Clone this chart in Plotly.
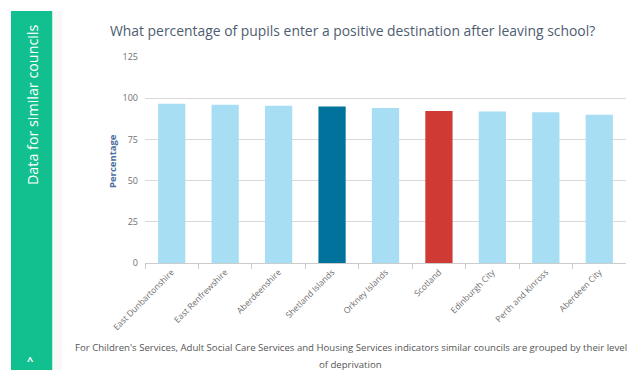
import plotly.graph_objects as go

# Positive destinations for school leavers, similar councils
councils = [
    "East Dunbartonshire", "East Renfrewshire", "Aberdeenshire",
    "Shetland Islands", "Orkney Islands", "Scotland",
    "Edinburgh City", "Perth and Kinross", "Aberdeen City",
]
percentages = [96.6, 96.0, 95.4, 95.0, 94.0, 92.3, 91.9, 91.5, 89.9]
bar_colours = ["#A8DEF3", "#A8DEF3", "#A8DEF3", "#00729C", "#A8DEF3",
               "#CF3A35", "#A8DEF3", "#A8DEF3", "#A8DEF3"]
y_ticks = [0, 25, 50, 75, 100, 125]

W, H = 637, 370
FONT = "Open Sans"


def px(x):
    return x / W


def py(y):
    return 1 - y / H


fig = go.Figure(
    go.Bar(
        x=councils,
        y=percentages,
        marker=dict(color=bar_colours, line=dict(width=0)),
        hovertemplate="%{x}: %{y}<extra></extra>",
    )
)

fig.update_layout(
    template="none",
    width=W,
    height=H,
    margin=dict(l=0, r=0, t=0, b=0, pad=0),
    paper_bgcolor="white",
    plot_bgcolor="white",
    showlegend=False,
    bargap=0.49,
    font=dict(family=FONT, color="#666666"),
    xaxis=dict(
        automargin=False,
        domain=[px(145), px(626)],
        tickangle=-45,
        tickfont=dict(size=8.5, color="#707070"),
        ticks="outside",
        tickson="boundaries",
        ticklen=5,
        tickcolor="#cccccc",
        showline=True,
        linecolor="#cccccc",
        linewidth=1,
        showgrid=False,
        zeroline=False,
    ),
    yaxis=dict(
        automargin=False,
        domain=[py(263), py(57)],
        range=[0, 125],
        tickvals=y_ticks,
        tickfont=dict(size=9, color="#707070"),
        gridcolor="#d9d9d9",
        gridwidth=1,
        zeroline=False,
        showline=False,
        ticks="",
        ticklabelstandoff=6,
    ),
    shapes=[
        # side tab
        dict(type="rect", xref="paper", yref="paper",
             x0=px(11), x1=px(52.5), y0=py(370), y1=py(11),
             fillcolor="#12BF8E", line=dict(width=0), layer="below"),
        dict(type="rect", xref="paper", yref="paper",
             x0=px(52.5), x1=px(62), y0=py(370), y1=py(11),
             fillcolor="#f8f8f8", line=dict(width=0), layer="below"),
    ],
    annotations=[
        dict(text="What percentage of pupils enter a positive destination after leaving school?",
             xref="paper", yref="paper", x=px(352), y=py(30),
             xanchor="center", yanchor="middle", showarrow=False,
             font=dict(family=FONT, size=13.9, color="#4E5D70")),
        dict(text="<b>Percentage</b>", xref="paper", yref="paper",
             x=px(112), y=py(161), textangle=-90,
             xanchor="center", yanchor="middle", showarrow=False,
             font=dict(family=FONT, size=9.5, color="#4D6E9E")),
        dict(text="Data for similar councils", xref="paper", yref="paper",
             x=px(32), y=py(105), textangle=-90,
             xanchor="center", yanchor="middle", showarrow=False,
             font=dict(family=FONT, size=14.3, color="white")),
        dict(text="<b>^</b>", xref="paper", yref="paper",
             x=px(30), y=py(360),
             xanchor="center", yanchor="middle", showarrow=False,
             font=dict(family=FONT, size=11, color="white")),
        dict(text="For Children's Services, Adult Social Care Services and Housing Services indicators similar councils are grouped by their level",
             xref="paper", yref="paper", x=px(351), y=py(347),
             xanchor="center", yanchor="middle", showarrow=False,
             font=dict(family=FONT, size=9.6, color="#555555")),
        dict(text="of deprivation",
             xref="paper", yref="paper", x=px(351), y=py(364),
             xanchor="center", yanchor="middle", showarrow=False,
             font=dict(family=FONT, size=9.6, color="#555555")),
    ],
)

fig.write_html("out.html")
